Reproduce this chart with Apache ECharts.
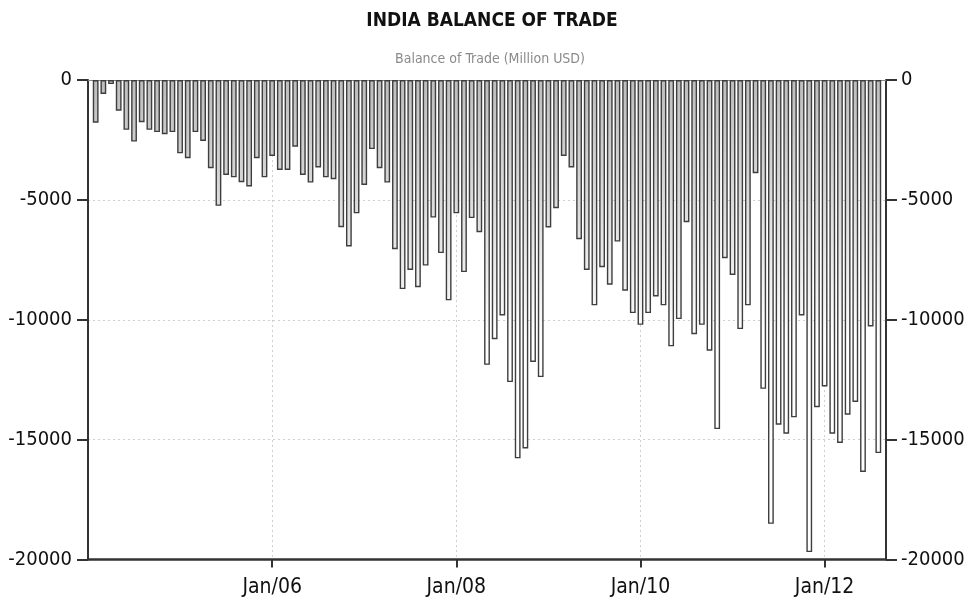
<!DOCTYPE html>
<html><head><meta charset="utf-8">
<script src="https://cdn.jsdelivr.net/npm/echarts@6/dist/echarts.min.js"></script>
<style>html,body{margin:0;padding:0;background:#fff}#c{width:965px;height:607px}</style>
</head><body><div id="c"></div>
<script>
// India balance of trade, monthly, Million USD (Feb 2004 .. Aug 2012)
const startYear = 2004, startMonth = 2;
const values = [
  -1780, -580, -170, -1280, -2080, -2570, -1760, -2080, -2170, -2260, -2170,
  -3060, -3260, -2170, -2540, -3680, -5250, -3960, -4060, -4260, -4440, -3260, -4060,
  -3170, -3750, -3750, -2780, -3960, -4280, -3650, -4060, -4140, -6140, -6940, -5560,
  -4380, -2880, -3680, -4280, -7060, -8720, -7920, -8640, -7740, -5740, -7220, -9190,
  -5560, -8010, -5760, -6350, -11880, -10810, -9820, -12600, -15780, -15370, -11760, -12390,
  -6150, -5350, -3170, -3650, -6640, -7920, -9400, -7810, -8540, -6740, -8790, -9720,
  -10210, -9720, -9030, -9400, -11110, -9970, -5930, -10600, -10210, -11290, -14560, -7430,
  -8130, -10390, -9400, -3890, -12880, -18510, -14380, -14750, -14070, -9820, -19690, -13650,
  -12780, -14750, -15140, -13960, -13430, -16350, -10280, -15560
];
const months = values.map((v, i) => {
  const m = startMonth - 1 + i;
  return (startYear + Math.floor(m / 12)) + '-' + String(m % 12 + 1).padStart(2, '0');
});
const xTickMonths = [24, 48, 72, 96];          // months since Jan 2004
const xTickLabels = ['Jan/06', 'Jan/08', 'Jan/10', 'Jan/12'];
const titleText = 'INDIA BALANCE OF TRADE';
const subText = 'Balance of Trade (Million USD)';

function monthIndex(s) {
  const [y, m] = s.split('-').map(Number);
  return (y - startYear) * 12 + (m - 1);
}

const FONT = "'Liberation Sans Narrow','DejaVu Sans Condensed','Liberation Sans',sans-serif";
const chart = echarts.init(document.getElementById('c'));
const fill = new echarts.graphic.LinearGradient(0, 80, 0, 340, [
  { offset: 0, color: '#bdbdbd' },
  { offset: 1, color: '#ffffff' }
], true);

const yAxisBase = {
  type: 'value', min: -20000, max: 0, interval: 5000,
  axisLine: { show: true, onZero: false, lineStyle: { color: '#333', width: 2 } },
  axisTick: { show: true, inside: false, length: 11, lineStyle: { color: '#333', width: 2 } },
  axisLabel: { color: '#111', fontSize: 20, fontFamily: FONT, formatter: v => String(v) }
};

chart.setOption({
  animation: false,
  backgroundColor: '#fff',
  title: [
    { text: titleText, left: 487, top: 7, textAlign: 'center',
      textStyle: { fontFamily: FONT, fontSize: 19, fontWeight: 'bold', color: '#111' } },
    { text: subText, left: 485, top: 47, textAlign: 'center',
      textStyle: { fontFamily: FONT, fontSize: 14, fontWeight: 'normal', color: '#8a8a8a' } }
  ],
  grid: { left: 88, top: 80, width: 798, height: 479.5, containLabel: false, outerBoundsMode: 'none' },
  xAxis: [
    {
      type: 'value', min: 0, max: 104, interval: 24, position: 'bottom',
      axisLine: { show: true, onZero: false, lineStyle: { color: '#333', width: 2.5 } },
      axisTick: { show: true, length: 8, customValues: xTickMonths, lineStyle: { color: '#333', width: 2 } },
      axisLabel: {
        customValues: xTickMonths, margin: 18, color: '#111', fontSize: 21, fontFamily: FONT,
        formatter: v => { const k = xTickMonths.indexOf(v); return k >= 0 ? xTickLabels[k] : ''; }
      },
      splitLine: { show: true, lineStyle: { color: '#cfcfcf', type: [2, 3], width: 1 } }
    },
    {
      type: 'value', min: 0, max: 104, position: 'top',
      axisLine: { show: true, onZero: false, lineStyle: { color: '#888', width: 1 } },
      axisTick: { show: false }, axisLabel: { show: false }, splitLine: { show: false }
    }
  ],
  yAxis: [
    Object.assign({}, yAxisBase, {
      position: 'left',
      axisLabel: Object.assign({}, yAxisBase.axisLabel, { margin: 16 }),
      splitLine: { show: true, lineStyle: { color: '#cfcfcf', type: [2, 3], width: 1 } }
    }),
    Object.assign({}, yAxisBase, {
      position: 'right',
      axisLabel: Object.assign({}, yAxisBase.axisLabel, { margin: 15 }),
      splitLine: { show: false }
    })
  ],
  series: [{
    type: 'bar',
    xAxisIndex: 0, yAxisIndex: 0,
    barWidth: 5.8,
    data: months.map((m, i) => [monthIndex(m), values[i]]),
    itemStyle: { color: fill, borderColor: '#3e3e3e', borderWidth: 1.4 }
  }]
});
</script>
</body></html>
